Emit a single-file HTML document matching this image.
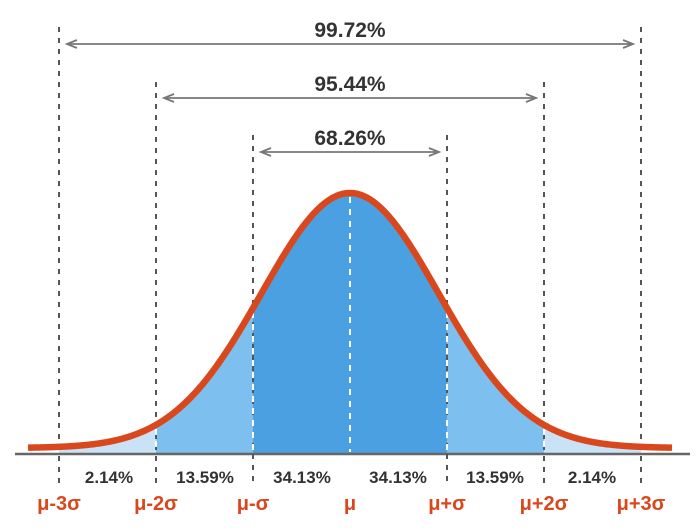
<!DOCTYPE html>
<html><head><meta charset="utf-8"><style>
html,body{margin:0;padding:0;background:#fff;}
svg{display:block;}
text{font-family:"Liberation Sans",Arial,sans-serif;font-weight:bold;}
</style></head><body>
<svg id="s" width="700" height="528" viewBox="0 0 700 528" xmlns="http://www.w3.org/2000/svg">
<g id="fills"></g>
<line x1="15" y1="454" x2="690" y2="454" stroke="#666" stroke-width="2.5"/>
<g stroke="#555" stroke-width="2" stroke-dasharray="5,6">
<line x1="59" y1="27" x2="59" y2="485"/>
<line x1="641" y1="27" x2="641" y2="485"/>
<line x1="156" y1="82" x2="156" y2="485"/>
<line x1="544" y1="82" x2="544" y2="485"/>
<line x1="253" y1="135" x2="253" y2="485"/>
<line x1="447" y1="135" x2="447" y2="485"/>
</g>
<g id="wd" stroke="#fff" stroke-width="2" stroke-dasharray="6,6"></g>
<g id="curve"></g>
<g stroke="#777" stroke-width="1.8" fill="none">
<line x1="67" y1="44" x2="633" y2="44"/>
<path d="M77,40 L67,44 L77,48 M623,40 L633,44 L623,48"/>
<line x1="164" y1="98" x2="536" y2="98"/>
<path d="M174,94 L164,98 L174,102 M526,94 L536,98 L526,102"/>
<line x1="261" y1="152" x2="439" y2="152"/>
<path d="M271,148 L261,152 L271,156 M429,148 L439,152 L429,156"/>
</g>
<g fill="#333" font-size="21" text-anchor="middle">
<text x="350" y="37">99.72%</text>
<text x="350" y="91">95.44%</text>
<text x="350" y="145">68.26%</text>
</g>
<g fill="#333" font-size="17" text-anchor="middle">
<text x="109" y="483">2.14%</text>
<text x="205" y="483">13.59%</text>
<text x="302" y="483">34.13%</text>
<text x="398" y="483">34.13%</text>
<text x="495" y="483">13.59%</text>
<text x="592" y="483">2.14%</text>
</g>
<g fill="#d9481c" font-size="20" text-anchor="middle">
<text x="59" y="510">μ-3σ</text>
<text x="156" y="510">μ-2σ</text>
<text x="253" y="510">μ-σ</text>
<text x="350" y="510">μ</text>
<text x="447" y="510">μ+σ</text>
<text x="544" y="510">μ+2σ</text>
<text x="641" y="510">μ+3σ</text>
</g>
</svg>
<script>
(function(){
var ns="http://www.w3.org/2000/svg",mu=350,sg=97,base=453;
function y(x){var z=(x-mu)/sg;return base-5-255*Math.exp(-0.6*z*z);}
function area(x0,x1,col){var d="M"+x0+","+base;for(var x=x0;x<=x1;x+=1)d+=" L"+x+","+y(x).toFixed(2);d+=" L"+x1+","+y(x1).toFixed(2)+" L"+x1+","+base+" Z";var p=document.createElementNS(ns,"path");p.setAttribute("d",d);p.setAttribute("fill",col);document.getElementById("fills").appendChild(p);}
area(59,156,"#c9e2f6");area(156,253,"#7dbfef");area(253,447,"#4aa0e0");area(447,544,"#7dbfef");area(544,641,"#c9e2f6");
var d="M28,"+y(28).toFixed(2);for(var x=29;x<=672;x++)d+=" L"+x+","+y(x).toFixed(2);
var p=document.createElementNS(ns,"path");p.setAttribute("d",d);p.setAttribute("fill","none");p.setAttribute("stroke","#d9481c");p.setAttribute("stroke-width","6.5");document.getElementById("curve").appendChild(p);
var xs=[156,253,350,447,544];var g=document.getElementById("wd");
xs.forEach(function(x){var l=document.createElementNS(ns,"line");l.setAttribute("x1",x);l.setAttribute("x2",x);l.setAttribute("y1",y(x)+4);l.setAttribute("y2",452);g.appendChild(l);});
})();
</script>
</body></html>
